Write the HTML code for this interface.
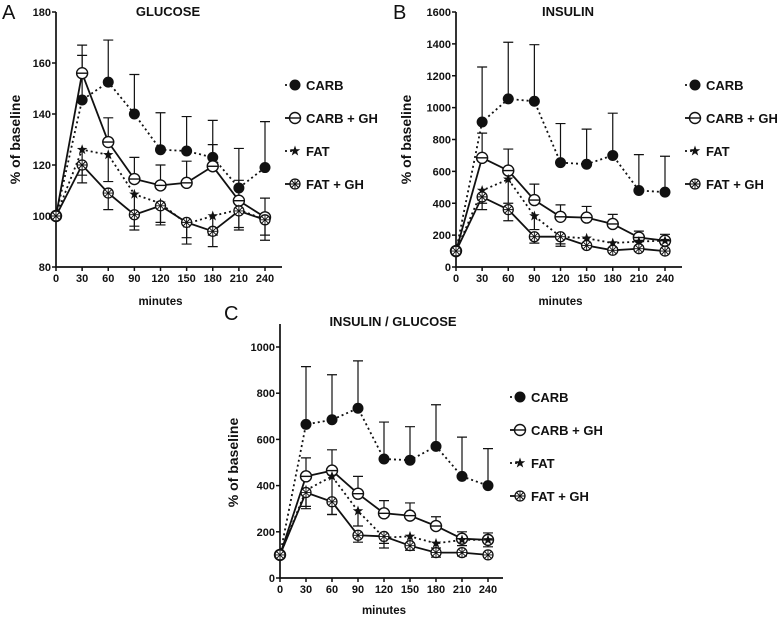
<!DOCTYPE html>
<html><head><meta charset="utf-8"><style>
html,body{margin:0;padding:0;background:#fff;}
svg{display:block;font-family:"Liberation Sans",sans-serif;}
text{fill:#111;}
</style></head><body>
<svg id="chart" width="777" height="620" viewBox="0 0 777 620" xmlns="http://www.w3.org/2000/svg"></svg>
<script>
const minutes = [0,30,60,90,120,150,180,210,240];
const seriesNames = ["CARB","CARB + GH","FAT","FAT + GH"];
// Panel A glucose
const gluCarb = [100,145.5,152.5,140,126,125.5,123,111,119];
const gluCarbErr = [100,167,169,155.5,140.5,139,137.5,126.5,137];
const gluCarbGH = [100,156,129,114.5,112,113,119.5,106,99.5];
const gluCarbGHErr = [100,163,138.5,123,120,121.5,128,114,107];
const gluFat = [100,126,124,108.5,105,97,100,102.5,98.5];
const gluFatErr = [100,113,113.5,94.5,96.5,89,88,94.5,90.5];
const gluFatGH = [100,120,109,100.5,104,97.5,94,102,98.5];
const gluFatGHErr = [100,116,102.5,96,97.5,91.5,92.5,95.5,92.5];
const gluTicks = [80,100,120,140,160,180];
// Panel B insulin
const insCarb = [100,910,1055,1040,655,645,700,480,470];
const insCarbErr = [100,1255,1410,1395,900,865,965,705,695];
const insCarbGH = [100,685,605,420,315,310,270,185,165];
const insCarbGHErr = [100,840,740,520,390,380,330,225,205];
const insFat = [100,480,550,320,190,180,150,160,165];
const insFatErr = [100,400,400,235,130,140,120,130,140];
const insFatGH = [100,440,360,190,190,135,105,115,100];
const insFatGHErr = [100,360,290,150,145,120,95,100,90];
const insTicks = [0,200,400,600,800,1000,1200,1400,1600];
// Panel C insulin/glucose
const igCarb = [100,665,685,735,515,510,570,440,400];
const igCarbErr = [100,915,880,940,675,655,750,610,560];
const igCarbGH = [100,440,465,365,280,270,225,170,165];
const igCarbGHErr = [100,520,555,440,335,325,265,200,195];
const igFat = [100,380,440,290,175,180,150,165,165];
const igFatErr = [100,300,275,225,130,150,130,140,135];
const igFatGH = [100,370,330,185,180,140,110,110,100];
const igFatGHErr = [100,310,275,155,150,120,90,95,90];
const igTicks = [0,200,400,600,800,1000];

const svg = document.getElementById('chart');
const NS = 'http://www.w3.org/2000/svg';
function mk(tag, attrs, parent){const e=document.createElementNS(NS,tag);for(const k in attrs)e.setAttribute(k,attrs[k]);(parent||svg).appendChild(e);return e;}

function marker(g, kind, x, y){
  if(kind===0){mk('circle',{cx:x,cy:y,r:5.5,fill:'#111'},g);}
  else if(kind===1){mk('circle',{cx:x,cy:y,r:5.5,fill:'#fff',stroke:'#111','stroke-width':1.4},g);mk('line',{x1:x-5.5,y1:y,x2:x+5.5,y2:y,stroke:'#111','stroke-width':1.4},g);}
  else if(kind===2){let p='';for(let i=0;i<10;i++){const r=i%2?2.2:5.5;const a=-Math.PI/2+i*Math.PI/5;p+=(x+r*Math.cos(a)).toFixed(2)+','+(y+r*Math.sin(a)).toFixed(2)+' ';}mk('polygon',{points:p,fill:'#111'},g);}
  else {mk('circle',{cx:x,cy:y,r:5,fill:'#fff',stroke:'#111','stroke-width':1.3},g);
    mk('path',{d:`M${x-5} ${y}H${x+5}M${x} ${y-5}V${y+5}M${x-3.5} ${y-3.5}L${x+3.5} ${y+3.5}M${x-3.5} ${y+3.5}L${x+3.5} ${y-3.5}`,stroke:'#111','stroke-width':0.9,fill:'none'},g);}
}

function panel(o){
  const g=mk('g',{});
  
  
  const xs=v=>o.x0+(v/240)*(o.x1-o.x0);
  const ys=v=>o.yb+(v-o.ymin)/(o.ymax-o.ymin)*(o.yt-o.yb);
  const letter=mk('text',{x:o.lx,y:o.ly,'font-size':20},g);letter.textContent=o.letter;
  
  const t=mk('text',{x:o.tx,y:o.ty,'font-size':13,'font-weight':'bold','text-anchor':'middle'},g);t.textContent=o.title;
  
  const ax=mk('path',{d:`M${o.x0} ${o.axTop}V${o.yb}H${o.axEnd}`,stroke:'#111','stroke-width':1.7,fill:'none'},g);
  
  o.ticks.forEach(v=>{const y=ys(v);mk('line',{x1:o.x0-4,y1:y,x2:o.x0,y2:y,stroke:'#111','stroke-width':1.5},g);
    const tt=mk('text',{x:o.x0-5,y:y+4,'font-size':11,'font-weight':'bold','text-anchor':'end'},g);tt.textContent=v;
    });
  minutes.forEach(m=>{const x=xs(m);mk('line',{x1:x,y1:o.yb,x2:x,y2:o.yb+4,stroke:'#111','stroke-width':1.5},g);
    const tt=mk('text',{x:x,y:o.yb+15,'font-size':11,'font-weight':'bold','text-anchor':'middle'},g);tt.textContent=m;
    });
  const xl=mk('text',{x:(o.x0+o.x1)/2,y:o.xly,'font-size':11.5,'font-weight':'bold','text-anchor':'middle'},g);xl.textContent='minutes';
  
  const yl=mk('text',{x:0,y:0,'font-size':14,'font-weight':'bold','text-anchor':'middle',transform:`translate(${o.ylx},${(o.yt+o.yb)/2}) rotate(-90)`},g);yl.textContent='%  of baseline';
  
  o.series.forEach((s,k)=>{
    minutes.forEach((m,i)=>{if(i===0)return;const x=xs(m);const y1=ys(s.v[i]),y2=ys(s.e[i]);
      const eb=mk('path',{d:`M${x} ${y1}V${y2}M${x-5} ${y2}H${x+5}`,stroke:'#111','stroke-width':1.2,fill:'none'},g);
      });
  });
  o.series.forEach((s,k)=>{
    const d=s.v.map((v,i)=>(i?'L':'M')+xs(minutes[i]).toFixed(1)+' '+ys(v).toFixed(1)).join('');
    const ln=mk('path',{d:d,stroke:'#111','stroke-width':1.8,fill:'none','stroke-dasharray':k%2===0?'2,3':'none'},g);
    
  });
  o.series.forEach((s,k)=>{
    s.v.forEach((v,i)=>{const mg=mk('g',{},g);marker(mg,k,xs(minutes[i]),ys(v));});
  });
  seriesNames.forEach((n,k)=>{const y=o.legY+k*o.legDy;const lg=mk('g',{},g);
    
    mk('line',{x1:o.legX-8,y1:y,x2:o.legX+6,y2:y,stroke:'#111','stroke-width':1.8,'stroke-dasharray':k%2===0?'2,3':'none'},lg);
    marker(lg,k,o.legX+2,y);
    const lt=mk('text',{x:o.legX+13,y:y+5,'font-size':13,'font-weight':'bold'},lg);lt.textContent=n;});
}

panel({name:'panel-a-glucose',letter:'A',lx:2,ly:19,title:'GLUCOSE',tx:168,ty:16,x0:56,x1:265,axEnd:282,yb:267,yt:12,axTop:12,ymin:80,ymax:180,ticks:gluTicks,xly:305,ylx:20,legX:293,legY:85,legDy:33,
  series:[{v:gluCarb,e:gluCarbErr},{v:gluCarbGH,e:gluCarbGHErr},{v:gluFat,e:gluFatErr},{v:gluFatGH,e:gluFatGHErr}]});
panel({name:'panel-b-insulin',letter:'B',lx:393,ly:19,title:'INSULIN',tx:568,ty:16,x0:456,x1:665,axEnd:682,yb:267,yt:12,axTop:12,ymin:0,ymax:1600,ticks:insTicks,xly:305,ylx:411,legX:693,legY:85,legDy:33,
  series:[{v:insCarb,e:insCarbErr},{v:insCarbGH,e:insCarbGHErr},{v:insFat,e:insFatErr},{v:insFatGH,e:insFatGHErr}]});
panel({name:'panel-c-insulin-glucose',letter:'C',lx:224,ly:320,title:'INSULIN / GLUCOSE',tx:393,ty:326,x0:280,x1:488,axEnd:503,yb:578,yt:347,axTop:324,ymin:0,ymax:1000,ticks:igTicks,xly:614,ylx:238,legX:518,legY:397,legDy:33,
  series:[{v:igCarb,e:igCarbErr},{v:igCarbGH,e:igCarbGHErr},{v:igFat,e:igFatErr},{v:igFatGH,e:igFatGHErr}]});
</script>
</body></html>
